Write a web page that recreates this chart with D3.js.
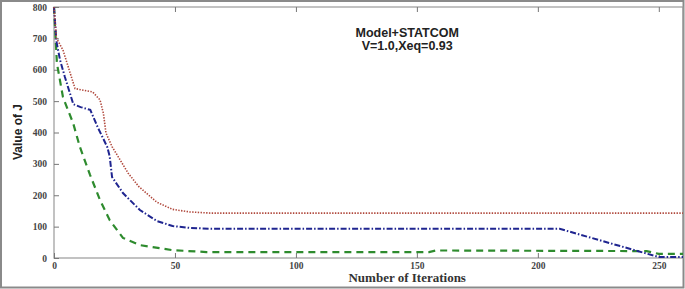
<!DOCTYPE html>
<html>
<head>
<meta charset="utf-8">
<script src="https://cdn.jsdelivr.net/npm/d3@7"></script>
<style>
  body { margin: 0; background: #fff; }
  svg { display: block; }
  .tick-label { font-family: "Liberation Serif", "DejaVu Serif", serif; font-weight: bold; font-size: 9.5px; fill: #444; }
</style>
</head>
<body>
<div id="chart"></div>
<script>
// Data: [iteration, J]
const redSeries = [[0,800],[1,701],[3.7,663],[8.7,540],[16,529],[19,504],[20.4,462],[21.5,398],[24,355],[30.6,271],[35,228],[42.5,178],[49,155],[56,147],[65,143],[260,143]];
const blueSeries = [[0,800],[1,690],[2.5,631],[4.5,577],[8,490],[11,481],[15,472],[18,418],[22,354],[23,325],[24,258],[28.5,207],[35.5,153],[42.5,118],[49,102],[56,96],[65,93],[209,93],[250,3],[260,3]];
const greenSeries = [[0,800],[1.2,621],[3.7,513],[5.6,475],[7.9,430],[10.7,354],[14.9,265],[19,185],[23,121],[28.5,64],[35.5,41],[49,25],[63,19],[155,19],[158,24],[245,22],[250,13],[260,13]];
const xTicks = [0, 50, 100, 150, 200, 250];
const yTicks = [0, 100, 200, 300, 400, 500, 600, 700, 800];
const titleLines = ['Model+STATCOM', 'V=1.0,Xeq=0.93'];

const W = 685, H = 289;
const margin = { top: 7, right: 2, bottom: 31, left: 54 };
const width = W - margin.left - margin.right;
const height = H - margin.top - margin.bottom;

const svg = d3.select('#chart').append('svg')
  .attr('width', W)
  .attr('height', H);

// outer frame of the figure
svg.append('rect')
  .attr('x', 1).attr('y', 1)
  .attr('width', W - 2.5).attr('height', H - 2.5)
  .attr('fill', 'none').attr('stroke', '#8a8a8a').attr('stroke-width', 2);

const g = svg.append('g')
  .attr('transform', `translate(${margin.left}, ${margin.top})`);

const x = d3.scaleLinear().domain([0, 260]).range([0, width]);
const y = d3.scaleLinear().domain([0, 800]).range([height, 0]);

// axes box
g.append('rect')
  .attr('width', width).attr('height', height)
  .attr('fill', 'none').attr('stroke', '#9a9a9a').attr('stroke-width', 1.2);

// bottom ticks (inward) and labels
const xb = g.append('g').attr('transform', `translate(0, ${height})`)
  .call(d3.axisBottom(x).tickValues(xTicks).tickSizeInner(-5).tickSizeOuter(0).tickPadding(4));
// top ticks
const xt = g.append('g')
  .call(d3.axisTop(x).tickValues(xTicks).tickSizeInner(-5).tickSizeOuter(0).tickFormat(''));
// left ticks
const yl = g.append('g')
  .call(d3.axisLeft(y).tickValues(yTicks).tickSizeInner(-5).tickSizeOuter(0).tickPadding(7));

[xb, xt, yl].forEach(a => {
  a.select('.domain').remove();
  a.selectAll('line').attr('stroke', '#777');
  a.selectAll('text').attr('class', 'tick-label');
});

// lines
const line = d3.line().x(d => x(d[0])).y(d => y(d[1]));

g.append('path').datum(greenSeries)
  .attr('d', line).attr('fill', 'none')
  .attr('stroke', '#2e8b2e').attr('stroke-width', 2.2)
  .attr('stroke-dasharray', '7,5');

g.append('path').datum(blueSeries)
  .attr('d', line).attr('fill', 'none')
  .attr('stroke', '#1f2590').attr('stroke-width', 2)
  .attr('stroke-dasharray', '6,2,1.5,2');

g.append('path').datum(redSeries)
  .attr('d', line).attr('fill', 'none')
  .attr('stroke', '#b0483c').attr('stroke-width', 1.6)
  .attr('stroke-dasharray', '1.4,1.4');

// annotation
g.append('text')
  .attr('x', x(146)).attr('y', 30)
  .attr('text-anchor', 'middle')
  .style('font-family', '"Liberation Sans", Arial, sans-serif')
  .style('font-weight', 'bold').style('font-size', '12.5px')
  .style('fill', '#222')
  .selectAll('tspan').data(titleLines).enter().append('tspan')
  .attr('x', x(146)).attr('dy', (d, i) => i ? 13 : 0)
  .text(d => d);

// axis titles
svg.append('text')
  .attr('x', margin.left + x(146)).attr('y', 282)
  .attr('text-anchor', 'middle')
  .style('font-family', '"Liberation Serif", serif')
  .style('font-weight', 'bold').style('font-size', '13px')
  .style('fill', '#333')
  .text('Number of Iterations');

svg.append('text')
  .attr('transform', 'translate(22, 132) rotate(-90)')
  .attr('text-anchor', 'middle')
  .style('font-family', '"Liberation Sans", Arial, sans-serif')
  .style('font-weight', 'bold').style('font-size', '12px')
  .style('fill', '#222')
  .text('Value of J');
</script>
</body>
</html>
